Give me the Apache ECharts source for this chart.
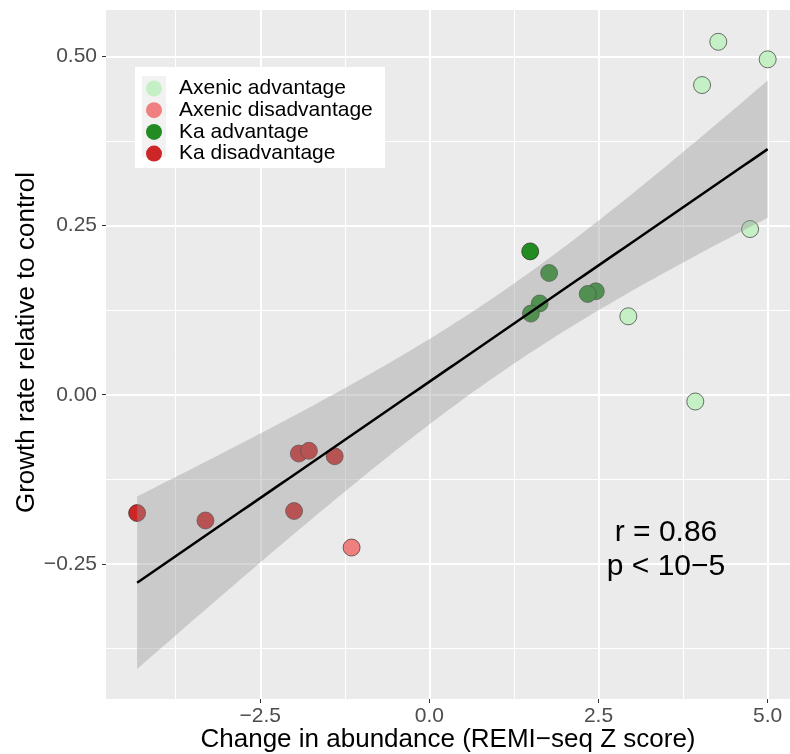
<!DOCTYPE html>
<html>
<head>
<meta charset="utf-8">
<style>
  html, body { margin: 0; padding: 0; background: #ffffff; }
  #chart { width: 790px; height: 754px; }
</style>
<script src="https://cdn.jsdelivr.net/npm/echarts@6/dist/echarts.min.js"></script>
</head>
<body>
<div id="chart"></div>
<script>
// points, [Z score, growth rate]
const axenicAdv = [[4.27, 0.522], [5.00, 0.496], [4.03, 0.458], [4.74, 0.245], [2.94, 0.116], [3.93, -0.010]];
const axenicDis = [[-1.15, -0.226]];
const kaAdv = [[1.49, 0.212], [1.77, 0.180], [1.63, 0.135], [1.50, 0.120], [2.46, 0.153], [2.34, 0.149]];
const kaDis = [[-4.32, -0.175], [-3.31, -0.186], [-2.00, -0.172], [-1.93, -0.087], [-1.78, -0.083], [-1.40, -0.091]];

const groupNames = ['Axenic advantage', 'Axenic disadvantage', 'Ka advantage', 'Ka disadvantage'];
const groupColors = ['#C5F0C5', '#F08080', '#228B22', '#CD2626'];

const xMajor = [-2.5, 0, 2.5, 5];
const xMinor = [-3.75, -1.25, 1.25, 3.75];
const yMajor = [-0.25, 0, 0.25, 0.5];
const yMinor = [-0.375, -0.125, 0.125, 0.375];

const statText = ['r = 0.86', 'p < 10\u22125'];

// linear fit + 95% band, like geom_smooth(method = 'lm')
const allPts = [].concat(axenicAdv, axenicDis, kaAdv, kaDis);
const n = allPts.length;
const mx = allPts.reduce((s, p) => s + p[0], 0) / n;
const my = allPts.reduce((s, p) => s + p[1], 0) / n;
let sxx = 0, sxy = 0;
allPts.forEach(p => { sxx += (p[0] - mx) ** 2; sxy += (p[0] - mx) * (p[1] - my); });
const slope = sxy / sxx;
const icept = my - slope * mx;
let rss = 0;
allPts.forEach(p => { rss += (p[1] - icept - slope * p[0]) ** 2; });
const sigma = Math.sqrt(rss / (n - 2));
const tq = 2.1098; // qt(0.975, 17)

const xs = allPts.map(p => p[0]);
const x0 = Math.min(...xs), x1 = Math.max(...xs);
const fitRows = [];
for (let i = 0; i < 80; i++) {
  const x = x0 + (x1 - x0) * i / 79;
  const y = icept + slope * x;
  const se = sigma * Math.sqrt(1 / n + (x - mx) ** 2 / sxx);
  fitRows.push([x, y - tq * se, y + tq * se, y]);
}

const font = 'Liberation Sans';
const fmtMinus = s => s.replace('-', '\u2212');

const chart = echarts.init(document.getElementById('chart'));

const scatterOf = (name, data, color) => ({
  name: name,
  type: 'scatter',
  z: 2,
  data: data,
  symbolSize: 17,
  itemStyle: { color: color, opacity: 1, borderColor: '#1a1a1a', borderWidth: 0.6 },
  emphasis: { disabled: true }
});

chart.setOption({
  animation: false,
  backgroundColor: '#ffffff',
  grid: {
    left: 106, top: 10, right: 0, bottom: 55,
    containLabel: false, outerBoundsMode: 'none',
    show: true, backgroundColor: '#EBEBEB', borderWidth: 0
  },
  color: groupColors,
  legend: {
    data: groupNames,
    orient: 'vertical',
    left: 146,
    top: 78,
    padding: 0,
    itemGap: 0.7,
    itemWidth: 16,
    itemHeight: 16,
    icon: 'circle',
    itemStyle: { borderWidth: 0 },
    textStyle: { fontFamily: font, fontSize: 21, color: '#000', padding: [0, 0, 0, 12] },
    z: 10
  },
  graphic: [
    { type: 'rect', z: 1, shape: { x: 135, y: 67, width: 250, height: 101 }, style: { fill: '#ffffff' } },
    { type: 'rect', z: 1, shape: { x: 142, y: 76, width: 24, height: 81 }, style: { fill: '#F2F2F2' } },
    { type: 'text', z: 5, x: 666, y: 533, style: { text: statText[0], font: '30px "Liberation Sans"', fill: '#000', align: 'center', verticalAlign: 'middle' } },
    { type: 'text', z: 5, x: 666, y: 567, style: { text: statText[1], font: '30px "Liberation Sans"', fill: '#000', align: 'center', verticalAlign: 'middle' } }
  ],
  xAxis: [
    {
      type: 'value', min: -4.78, max: 5.33,
      name: 'Change in abundance (REMI\u2212seq Z score)',
      nameLocation: 'middle', nameGap: 28, nameMoveOverlap: false,
      nameTextStyle: { fontFamily: font, fontSize: 26, color: '#000' },
      axisLine: { show: false, onZero: false },
      axisTick: { show: true, length: 4, customValues: xMajor, lineStyle: { color: '#333333', width: 1 } },
      axisLabel: { customValues: xMajor, margin: 7, fontFamily: font, fontSize: 21, color: '#4D4D4D',
        formatter: v => fmtMinus(v.toFixed(1)) },
      splitLine: { show: true, lineStyle: { color: '#ffffff', width: 2 } }
    },
    {
      type: 'value', min: -4.78, max: 5.33,
      axisLine: { show: false, onZero: false },
      axisTick: { show: false, customValues: xMinor },
      axisLabel: { show: false, customValues: xMinor },
      splitLine: { show: true, lineStyle: { color: '#ffffff', width: 1 } }
    }
  ],
  yAxis: [
    {
      type: 'value', min: -0.45, max: 0.569,
      name: 'Growth rate relative to control',
      nameLocation: 'middle', nameGap: 66, nameMoveOverlap: false,
      nameTextStyle: { fontFamily: font, fontSize: 26, color: '#000', padding: [0, 0, 0, 24] },
      axisLine: { show: false, onZero: false },
      axisTick: { show: true, length: 4, customValues: yMajor, lineStyle: { color: '#333333', width: 1 } },
      axisLabel: { customValues: yMajor, margin: 9, fontFamily: font, fontSize: 21, color: '#4D4D4D',
        formatter: v => fmtMinus(v.toFixed(2)) },
      splitLine: { show: true, lineStyle: { color: '#ffffff', width: 2 } }
    },
    {
      type: 'value', min: -0.45, max: 0.569,
      axisLine: { show: false, onZero: false },
      axisTick: { show: false, customValues: yMinor },
      axisLabel: { show: false, customValues: yMinor },
      splitLine: { show: true, lineStyle: { color: '#ffffff', width: 1 } }
    }
  ],
  series: [
    scatterOf(groupNames[0], axenicAdv, groupColors[0]),
    scatterOf(groupNames[1], axenicDis, groupColors[1]),
    scatterOf(groupNames[2], kaAdv, groupColors[2]),
    scatterOf(groupNames[3], kaDis, groupColors[3]),
    {
      name: 'band',
      type: 'custom',
      z: 3,
      silent: true,
      data: fitRows.map(r => [r[0], r[1], r[2]]),
      encode: { x: 0, y: [1, 2] },
      renderItem: function (params, api) {
        if (params.dataIndex !== 0) return null;
        const pts = [];
        for (let i = 0; i < fitRows.length; i++) pts.push(api.coord([fitRows[i][0], fitRows[i][2]]));
        for (let i = fitRows.length - 1; i >= 0; i--) pts.push(api.coord([fitRows[i][0], fitRows[i][1]]));
        return { type: 'polygon', shape: { points: pts }, style: { fill: 'rgba(153,153,153,0.4)' } };
      }
    },
    {
      name: 'fit',
      type: 'line',
      z: 4,
      data: fitRows.map(r => [r[0], r[3]]),
      showSymbol: false,
      silent: true,
      lineStyle: { color: '#000000', width: 2.5 }
    }
  ]
});
</script>
</body>
</html>
